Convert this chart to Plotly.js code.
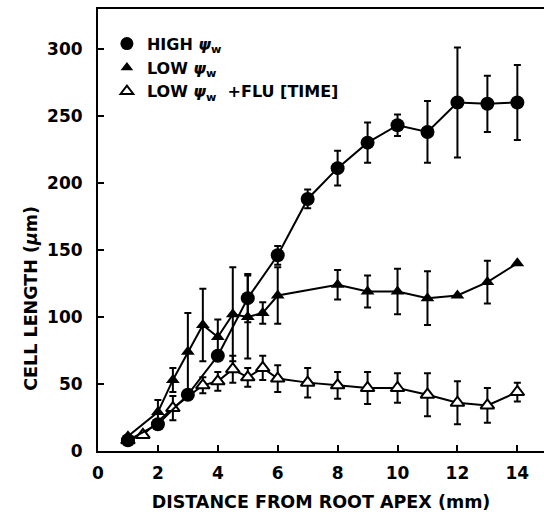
<!DOCTYPE html>
<html>
<head>
<meta charset="utf-8">
<script src="https://cdn.plot.ly/plotly-3.0.1.min.js"></script>
<style>html,body{margin:0;padding:0;background:#fff;}#chart{width:544px;height:518px;}</style>
</head>
<body>
<div id="chart"></div>
<script>
// Distance from root apex (mm) and cell length (µm)
const highX   = [1, 2, 3, 4, 5, 6, 7, 8, 9, 10, 11, 12, 13, 14];
const highY   = [8, 20, 42, 71, 114, 146, 188, 211, 230, 243, 238, 260, 259, 260];
const highErr = [0, 0, 0, 0, 18, 7, 7, 13, 15, 8, 23, 41, 21, 28];

const lowX   = [1, 2, 2.5, 3, 3.5, 4, 4.5, 5, 5.5, 6, 8, 9, 10, 11, 12, 13, 14];
const lowY   = [11, 29, 53, 74, 94, 85, 102, 100, 103, 116, 124, 119, 119, 114, 116, 126, 140];
const lowErr = [0, 9, 9, 29, 27, 13, 35, 31, 8, 21, 11, 12, 17, 20, 0, 16, 0];

const fluX   = [1, 1.5, 2.5, 3.5, 4, 4.5, 5, 5.5, 6, 7, 8, 9, 10, 11, 12, 13, 14];
const fluY   = [8, 12, 32, 49, 52, 61, 55, 62, 54, 51, 49, 47, 47, 42, 36, 34, 44];
const fluErr = [0, 0, 9, 6, 7, 10, 7, 9, 10, 11, 10, 12, 11, 16, 16, 13, 7];

const xTicks = [0, 2, 4, 6, 8, 10, 12, 14];
const yTicks = [0, 50, 100, 150, 200, 250, 300];

const legendNames = [
  'HIGH <i>ψ</i><sub>w</sub>',
  'LOW <i>ψ</i><sub>w</sub>',
  'LOW <i>ψ</i><sub>w</sub>  +FLU [TIME]'
];
const xTitle = 'DISTANCE FROM ROOT APEX (mm)';
const yTitle = 'CELL LENGTH (<i>μ</i>m)';

const errStyle = (arr) => ({type: 'data', array: arr, visible: true, color: '#000', thickness: 2, width: 3.5});

const traces = [
  {x: fluX, y: fluY, mode: 'lines+markers', showlegend: false,
   line: {color: '#000', width: 2},
   marker: {symbol: 'triangle-up', size: 12, color: '#fff', line: {color: '#000', width: 2}},
   error_y: errStyle(fluErr)},
  {x: lowX, y: lowY, mode: 'lines+markers', showlegend: false,
   line: {color: '#000', width: 2},
   marker: {symbol: 'triangle-up', size: 12, color: '#000'},
   error_y: errStyle(lowErr)},
  {x: highX, y: highY, mode: 'lines+markers', showlegend: false,
   line: {color: '#000', width: 2},
   marker: {symbol: 'circle', size: 14, color: '#000'},
   error_y: errStyle(highErr)},
  // legend-only entries (markers only, as in the original key)
  {x: [null], y: [null], mode: 'markers', name: legendNames[0],
   marker: {symbol: 'circle', size: 13, color: '#000'}},
  {x: [null], y: [null], mode: 'markers', name: legendNames[1],
   marker: {symbol: 'triangle-up', size: 11, color: '#000'}},
  {x: [null], y: [null], mode: 'markers', name: legendNames[2],
   marker: {symbol: 'triangle-up', size: 11, color: '#fff', line: {color: '#000', width: 2}}}
];

const font = {family: 'DejaVu Sans, sans-serif', color: '#000', weight: 'bold'};

const layout = {
  width: 544, height: 518,
  margin: {l: 98, r: 0, t: 9, b: 67},
  paper_bgcolor: '#fff', plot_bgcolor: '#fff',
  showlegend: true,
  legend: {x: 0.02, y: 0.96, xanchor: 'left', yanchor: 'top', traceorder: 'normal',
           bgcolor: 'rgba(0,0,0,0)', itemwidth: 30,
           font: Object.assign({}, font, {size: 16})},
  xaxis: {
    range: [0, 14.89], tickvals: xTicks, ticktext: xTicks.map(String),
    ticks: 'inside', ticklen: 6, tickwidth: 2, tickcolor: '#000',
    showline: true, linecolor: '#000', linewidth: 2, mirror: true,
    showgrid: false, zeroline: false,
    tickfont: Object.assign({}, font, {size: 17}), ticklabelstandoff: 6,
    title: {text: xTitle, font: Object.assign({}, font, {size: 17.5}), standoff: 13}
  },
  yaxis: {
    range: [0, 329.7], tickvals: yTicks, ticktext: yTicks.map(String),
    ticks: 'inside', ticklen: 6, tickwidth: 2, tickcolor: '#000',
    showline: true, linecolor: '#000', linewidth: 2, mirror: false,
    showgrid: false, zeroline: false,
    tickfont: Object.assign({}, font, {size: 17}), ticklabelstandoff: 10
  },
  annotations: [
    {text: yTitle, xref: 'paper', yref: 'paper', x: -0.152, y: 0.345,
     xanchor: 'center', yanchor: 'middle', textangle: -90, showarrow: false,
     font: Object.assign({}, font, {size: 17.5})}
  ]
};

Plotly.newPlot('chart', traces, layout, {displayModeBar: false, staticPlot: true});
</script>
</body>
</html>
